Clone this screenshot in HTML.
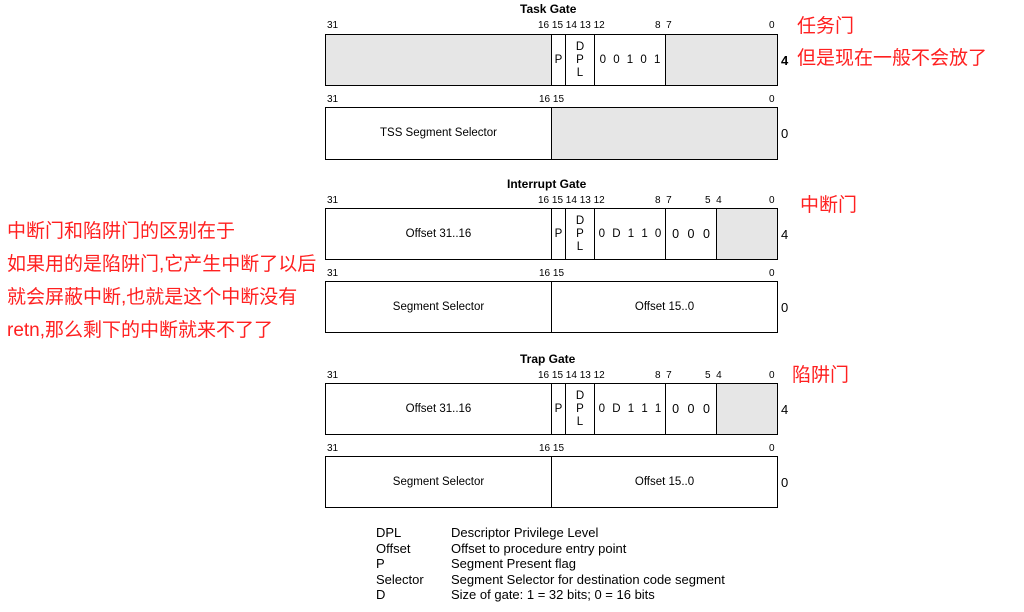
<!DOCTYPE html>
<html><head><meta charset="utf-8"><style>
body{margin:0;width:1024px;height:612px;background:#fff;position:relative;overflow:hidden;font-family:"Liberation Sans",Arial,sans-serif;color:#000}
.a{position:absolute;white-space:nowrap}
.t{font-weight:bold;font-size:12px}
.n{font-size:10px}
.b{position:absolute;border:1px solid #000;box-sizing:border-box}
.g{background:#e6e6e6}
.c{position:absolute;font-size:11.5px;display:flex;align-items:center;justify-content:center;text-align:center;box-sizing:border-box;line-height:13px}
.r{color:#ff2020;font-family:"Liberation Sans","Noto Sans CJK SC",sans-serif;font-size:19px}
.lg{font-size:13px}
</style></head><body>

<!-- Task gate -->
<div class="a t" style="left:520px;top:2px">Task Gate</div>
<div class="a n" style="left:327px;top:20px">31</div>
<div class="a n" style="left:538px;top:20px">16 15 14 13 12</div>
<div class="a n" style="left:655px;top:20px">8&nbsp;&nbsp;7</div>
<div class="a n" style="left:769px;top:20px">0</div>
<div class="b" style="left:325px;top:34px;width:453px;height:52px"></div>
<div class="c g" style="left:326px;top:35px;width:225px;height:50px"></div>
<div class="c" style="left:551px;top:35px;width:14px;height:50px;border-left:1px solid #000">P</div>
<div class="c" style="left:565px;top:35px;width:29px;height:50px;border-left:1px solid #000">D<br>P<br>L</div>
<div class="c" style="left:594px;top:35px;width:71px;height:50px;border-left:1px solid #000;word-spacing:4px">0 0 1 0 1</div>
<div class="c g" style="left:665px;top:35px;width:112px;height:50px;border-left:1px solid #000"></div>
<div class="a" style="left:781px;top:53px;font-size:13px;font-weight:bold">4</div>

<div class="a n" style="left:327px;top:94px">31</div>
<div class="a n" style="left:539px;top:94px">16 15</div>
<div class="a n" style="left:769px;top:94px">0</div>
<div class="b" style="left:325px;top:107px;width:453px;height:53px"></div>
<div class="c" style="left:326px;top:108px;width:225px;height:51px">TSS Segment Selector</div>
<div class="c g" style="left:551px;top:108px;width:226px;height:51px;border-left:1px solid #000"></div>
<div class="a" style="left:781px;top:126px;font-size:13px">0</div>

<!-- Interrupt gate -->
<div class="a t" style="left:507px;top:177px">Interrupt Gate</div>
<div class="a n" style="left:327px;top:195px">31</div>
<div class="a n" style="left:538px;top:195px">16 15 14 13 12</div>
<div class="a n" style="left:655px;top:195px">8&nbsp;&nbsp;7</div>
<div class="a n" style="left:705px;top:195px">5&nbsp;&nbsp;4</div>
<div class="a n" style="left:769px;top:195px">0</div>
<div class="b" style="left:325px;top:208px;width:453px;height:52px"></div>
<div class="c" style="left:326px;top:209px;width:225px;height:50px">Offset 31..16</div>
<div class="c" style="left:551px;top:209px;width:14px;height:50px;border-left:1px solid #000">P</div>
<div class="c" style="left:565px;top:209px;width:29px;height:50px;border-left:1px solid #000">D<br>P<br>L</div>
<div class="c" style="left:594px;top:209px;width:71px;height:50px;border-left:1px solid #000;word-spacing:4px">0 D 1 1 0</div>
<div class="c" style="left:665px;top:209px;width:51px;height:50px;border-left:1px solid #000;word-spacing:5px;font-size:12.5px">0 0 0</div>
<div class="c g" style="left:716px;top:209px;width:61px;height:50px;border-left:1px solid #000"></div>
<div class="a" style="left:781px;top:227px;font-size:13px">4</div>

<div class="a n" style="left:327px;top:268px">31</div>
<div class="a n" style="left:539px;top:268px">16 15</div>
<div class="a n" style="left:769px;top:268px">0</div>
<div class="b" style="left:325px;top:281px;width:453px;height:52px"></div>
<div class="c" style="left:326px;top:282px;width:225px;height:50px">Segment Selector</div>
<div class="c" style="left:551px;top:282px;width:226px;height:50px;border-left:1px solid #000">Offset 15..0</div>
<div class="a" style="left:781px;top:300px;font-size:13px">0</div>

<!-- Trap gate -->
<div class="a t" style="left:520px;top:352px">Trap Gate</div>
<div class="a n" style="left:327px;top:370px">31</div>
<div class="a n" style="left:538px;top:370px">16 15 14 13 12</div>
<div class="a n" style="left:655px;top:370px">8&nbsp;&nbsp;7</div>
<div class="a n" style="left:705px;top:370px">5&nbsp;&nbsp;4</div>
<div class="a n" style="left:769px;top:370px">0</div>
<div class="b" style="left:325px;top:383px;width:453px;height:52px"></div>
<div class="c" style="left:326px;top:384px;width:225px;height:50px">Offset 31..16</div>
<div class="c" style="left:551px;top:384px;width:14px;height:50px;border-left:1px solid #000">P</div>
<div class="c" style="left:565px;top:384px;width:29px;height:50px;border-left:1px solid #000">D<br>P<br>L</div>
<div class="c" style="left:594px;top:384px;width:71px;height:50px;border-left:1px solid #000;word-spacing:4px">0 D 1 1 1</div>
<div class="c" style="left:665px;top:384px;width:51px;height:50px;border-left:1px solid #000;word-spacing:5px;font-size:12.5px">0 0 0</div>
<div class="c g" style="left:716px;top:384px;width:61px;height:50px;border-left:1px solid #000"></div>
<div class="a" style="left:781px;top:402px;font-size:13px">4</div>

<div class="a n" style="left:327px;top:443px">31</div>
<div class="a n" style="left:539px;top:443px">16 15</div>
<div class="a n" style="left:769px;top:443px">0</div>
<div class="b" style="left:325px;top:456px;width:453px;height:52px"></div>
<div class="c" style="left:326px;top:457px;width:225px;height:50px">Segment Selector</div>
<div class="c" style="left:551px;top:457px;width:226px;height:50px;border-left:1px solid #000">Offset 15..0</div>
<div class="a" style="left:781px;top:475px;font-size:13px">0</div>

<!-- legend -->
<div class="a lg" style="left:376px;top:525px;line-height:15.6px">DPL<br>Offset<br>P<br>Selector<br>D</div>
<div class="a lg" style="left:451px;top:525px;line-height:15.6px">Descriptor Privilege Level<br>Offset to procedure entry point<br>Segment Present flag<br>Segment Selector for destination code segment<br>Size of gate: 1 = 32 bits; 0 = 16 bits</div>

<!-- red notes -->
<div class="a r" style="left:797px;top:11px">任务门</div>
<div class="a r" style="left:797px;top:43px">但是现在一般不会放了</div>
<div class="a r" style="left:800px;top:190px">中断门</div>
<div class="a r" style="left:792px;top:360px">陷阱门</div>
<div class="a r" style="left:7px;top:215px;line-height:33px">中断门和陷阱门的区别在于<br>如果用的是陷阱门,它产生中断了以后<br>就会屏蔽中断,也就是这个中断没有<br>retn,那么剩下的中断就来不了了</div>
</body></html>
